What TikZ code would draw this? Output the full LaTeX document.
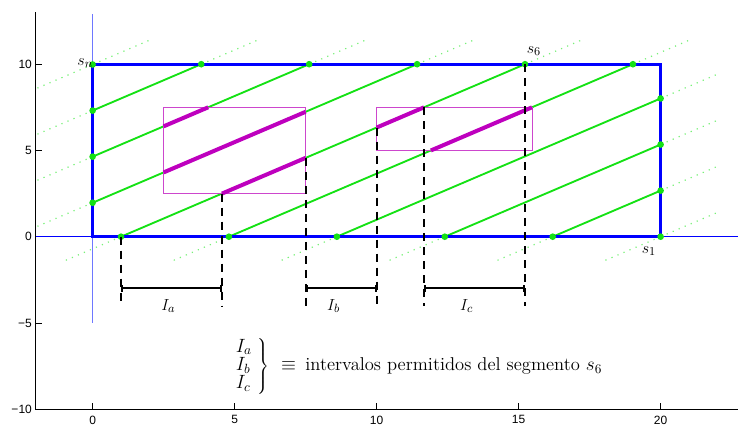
\documentclass[tikz,border=0pt]{standalone}
\usepackage{fontspec}
\newfontfamily\tickfont{Liberation Sans}
\usetikzlibrary{arrows.meta}
\definecolor{rblue}{RGB}{0,0,255}
\definecolor{lblue}{RGB}{110,120,255}
\definecolor{ggreen}{RGB}{20,225,20}
\definecolor{dgreen}{RGB}{120,240,120}
\definecolor{mthick}{RGB}{190,0,190}
\definecolor{mthin}{RGB}{205,70,205}
\begin{document}
\begin{tikzpicture}[x=21.3pt,y=12.9375pt,
  axisline/.style={black,line width=0.6pt},
  ticklab/.style={font=\tickfont\fontsize{9}{11}\selectfont,inner sep=0pt},
  mathlab/.style={font=\fontsize{13}{12.5}\selectfont,inner sep=0pt},
  leglab/.style={font=\fontsize{13.9}{12.5}\selectfont,inner sep=0pt},
  dotline/.style={dgreen,line width=0.9pt,dash pattern=on 0.9pt off 4pt},
  gline/.style={ggreen,line width=1.4pt},
  gdot/.style={fill=ggreen,draw=none},
  mseg/.style={mthick,line width=3pt},
  mrect/.style={mthin,line width=0.8pt},
  brect/.style={rblue,line width=2.2pt},
  dashline/.style={black,line width=1.5pt,dash pattern=on 6pt off 4.5pt},
  brk/.style={black,line width=1.5pt,{Bar[width=5pt]}-{Bar[width=5pt]}}]
\useasboundingbox (-3.261,-10.974) rectangle (22.725,13.722);
% axes
\draw[axisline] (-2,13) -- (-2,-10) -- (23,-10);
\foreach \v/\l [count=\i] in {-10/−10,-5/−5,0/0,5/5,10/10}{
  \draw[axisline] (-2,\v) -- ++(4.5pt,0);
  \node[ticklab,anchor=east] (yl\i) at (-2.13,\v) {\l};
}
\foreach \v [count=\i] in {0,5,10,15,20}{
  \draw[axisline] (\v,-10) -- ++(0,4.5pt);
  \node[ticklab,anchor=north] (xl\i) at (\v,-10.36) {\v};
}
% thin coordinate lines
\draw[rblue,line width=0.7pt] (-2,0) -- (23,0);
\draw[lblue,line width=1.1pt] (0,-5) -- (0,12.9);
% green lines with dotted extensions
\foreach \ax/\ay/\bx/\by in {0/9.983/0.025/10, 0/7.311/3.825/10, 0/4.640/7.625/10,
   0/1.968/11.425/10, 1/0/15.225/10, 4.8/0/19.025/10, 8.6/0/20/8.014,
   12.4/0/20/5.343, 16.2/0/20/2.671, 20/0/20/0}{
  \draw[dotline] (\ax,\ay) -- ++(-2,-1.406);
  \draw[dotline] (\bx,\by) -- ++(2,1.406);
  \draw[gline] (\ax,\ay) -- (\bx,\by);
}
% forbidden rectangles
\draw[mrect] (2.5,2.5) rectangle (7.5,7.5);
\draw[mrect] (10,5) rectangle (15.5,7.5);
\draw[mseg] (2.5,6.397) -- (4.069,7.5);
\draw[mseg] (2.5,3.726) -- (7.5,7.241);
\draw[mseg] (4.556,2.5) -- (7.5,4.570);
\draw[mseg] (10,6.327) -- (11.669,7.5);
\draw[mseg] (11.912,5) -- (15.469,7.5);
% blue region
\draw[brect] (0,0) rectangle (20,10);
% green points
\foreach \px/\py in {0/9.983,0/7.311,0/4.640,0/1.968,3.825/10,7.625/10,11.425/10,
   15.225/10,19.025/10,1/0,4.8/0,8.6/0,12.4/0,16.2/0,20/0,20/8.014,20/5.343,20/2.671}{
  \fill[gdot] (\px,\py) circle[radius=2.5pt];
}
% dashed projections
\foreach \x/\y in {1/0,4.556/2.5,7.5/4.570,10/6.327,11.669/7.5,15.225/10}{
  \draw[dashline] (\x,\y) -- (\x,-4);
}
% allowed intervals
\foreach \a/\b in {1/4.556,7.5/10,11.669/15.225}{
  \draw[brk] (\a,-3) -- (\b,-3);
}
% labels
\node[mathlab,anchor=base east] (sn) at (0.02,9.93) {$s_n$};
\node[mathlab,anchor=base west] (s6) at (15.28,10.63) {$s_6$};
\node[mathlab,anchor=base west] (s1) at (19.33,-0.96) {$s_1$};
\node[mathlab,anchor=base west] (Ia) at (2.41,-4.25) {$I_a$};
\node[mathlab,anchor=base west] (Ib) at (8.25,-4.25) {$I_b$};
\node[mathlab,anchor=base west] (Ic) at (12.93,-4.25) {$I_c$};
\node[leglab,anchor=west] (leg) at (4.98,-7.5)
  {$\delimiterfactor=1000\left.\begin{array}{@{}l@{\hspace{4pt}}}I_a\\ I_b\\ I_c\end{array}\right\}\hspace{5pt}\equiv\hspace{3pt}\mbox{intervalos permitidos del segmento }s_6$};
\end{tikzpicture}
\end{document}
